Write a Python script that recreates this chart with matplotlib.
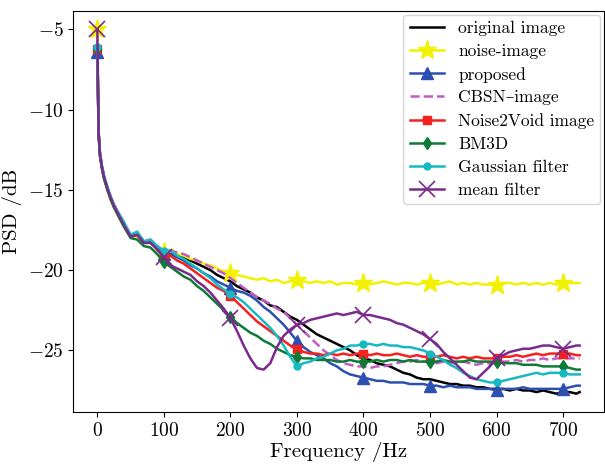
import numpy as np
import matplotlib
matplotlib.use("Agg")
import matplotlib.pyplot as plt

plt.rcParams['font.family'] = ['cmr10', 'DejaVu Serif']
plt.rcParams['mathtext.fontset'] = 'cm'
plt.rcParams['axes.formatter.use_mathtext'] = True

# frequency axis (Hz)
freq = [0, 2, 4, 7, 10, 15, 20, 25, 30, 40, 50, 60, 70, 80, 90] + list(range(100, 730, 10)) + [725]

original = [-6.2, -11.5, -12.8, -13.6, -14.2, -14.9, -15.5, -16.0, -16.4, -17.2, -17.9, -17.8, -18.3, -18.2, -18.6,
            -19.0, -18.9, -19.1, -19.2, -19.4, -19.6, -19.8, -20.0, -20.3, -20.5,
            -20.7, -21.0, -21.2, -21.4, -21.7, -21.9, -22.2, -22.3, -22.6, -22.9,
            -23.1, -23.4, -23.7, -24.0, -24.2, -24.4, -24.6, -24.8, -25.0, -25.3,
            -25.5, -25.6, -25.8, -25.9, -26.0, -26.2, -26.4, -26.5, -26.7, -26.8,
            -26.8, -26.9, -27.0, -27.1, -27.1, -27.2, -27.2, -27.3, -27.3, -27.4,
            -27.4, -27.4, -27.5, -27.4, -27.5, -27.5, -27.6, -27.5, -27.6, -27.7,
            -27.6, -27.6, -27.7, -27.6]

noise = [-5.0, -11.6, -12.9, -13.7, -14.3, -15.0, -15.6, -16.1, -16.5, -17.3, -17.9, -17.9, -18.3, -18.3, -18.6,
         -18.9, -18.8, -19.0, -19.1, -19.3, -19.4, -19.6, -19.7, -19.9, -20.1,
         -20.2, -20.3, -20.4, -20.5, -20.6, -20.5, -20.7, -20.6, -20.8, -20.7,
         -20.6, -20.7, -20.8, -20.7, -20.8, -20.7, -20.9, -20.8, -20.8, -20.9,
         -20.8, -20.9, -20.8, -20.7, -20.8, -20.9, -20.8, -20.8, -20.9, -20.8,
         -20.8, -20.9, -20.8, -20.7, -20.9, -20.8, -20.9, -20.8, -20.9, -20.9,
         -20.9, -20.8, -20.8, -20.9, -20.8, -20.9, -20.8, -20.9, -20.8, -20.9,
         -20.8, -20.8, -20.8, -20.8]

proposed = [-6.4, -11.5, -12.8, -13.6, -14.2, -14.9, -15.5, -16.0, -16.4, -17.2, -17.9, -17.8, -18.3, -18.2, -18.6,
            -19.0, -19.0, -19.2, -19.4, -19.7, -19.9, -20.2, -20.4, -20.7, -20.9,
            -21.1, -21.3, -21.4, -21.6, -21.9, -22.3, -22.6, -23.0, -23.4, -23.9,
            -24.4, -24.8, -25.1, -25.3, -25.5, -25.8, -26.0, -26.3, -26.5, -26.6,
            -26.7, -26.8, -26.9, -26.9, -27.0, -27.0, -27.0, -27.1, -27.1, -27.1,
            -27.2, -27.2, -27.3, -27.2, -27.3, -27.3, -27.3, -27.4, -27.4, -27.4,
            -27.5, -27.4, -27.4, -27.4, -27.3, -27.4, -27.4, -27.4, -27.4, -27.4,
            -27.4, -27.3, -27.2, -27.2]

cbsn = [-6.2, -11.4, -12.7, -13.5, -14.1, -14.8, -15.4, -15.9, -16.3, -17.1, -17.8, -17.7, -18.2, -18.1, -18.5,
        -18.8, -18.8, -18.9, -19.0, -19.2, -19.4, -19.6, -19.8, -20.0, -20.2,
        -20.5, -20.8, -21.1, -21.4, -21.7, -21.9, -22.1, -22.4, -22.6, -23.0,
        -23.4, -23.8, -24.2, -24.6, -25.0, -25.3, -25.6, -25.8, -25.9, -26.0,
        -26.0, -26.1, -26.0, -26.0, -25.9, -25.8, -25.7, -25.7, -25.6, -25.7,
        -25.7, -25.8, -25.7, -25.8, -25.8, -25.7, -25.8, -25.9, -25.8, -25.8,
        -25.8, -25.7, -25.7, -25.6, -25.7, -25.6, -25.6, -25.5, -25.6, -25.5,
        -25.5, -25.5, -25.5, -25.5]

n2v = [-6.2, -11.5, -12.8, -13.6, -14.2, -14.9, -15.5, -16.0, -16.4, -17.2, -17.9, -17.8, -18.3, -18.3, -18.7,
       -19.0, -19.1, -19.4, -19.6, -19.9, -20.2, -20.5, -20.8, -21.1, -21.3,
       -21.6, -22.0, -22.4, -22.8, -23.2, -23.5, -23.8, -24.1, -24.4, -24.7,
       -24.9, -25.1, -25.2, -25.2, -25.3, -25.2, -25.3, -25.2, -25.3, -25.2,
       -25.2, -25.3, -25.2, -25.3, -25.3, -25.2, -25.3, -25.4, -25.3, -25.4,
       -25.4, -25.4, -25.3, -25.4, -25.5, -25.4, -25.5, -25.4, -25.5, -25.5,
       -25.5, -25.4, -25.4, -25.3, -25.4, -25.3, -25.2, -25.3, -25.2, -25.2,
       -25.2, -25.2, -25.3, -25.3]

bm3d = [-6.2, -11.6, -12.9, -13.7, -14.3, -15.0, -15.6, -16.1, -16.5, -17.3, -18.0, -18.1, -18.5, -18.6, -19.0,
        -19.5, -19.8, -20.1, -20.4, -20.6, -21.0, -21.3, -21.7, -22.1, -22.5,
        -22.9, -23.3, -23.6, -23.9, -24.1, -24.4, -24.6, -24.9, -25.1, -25.3,
        -25.4, -25.5, -25.5, -25.6, -25.6, -25.6, -25.7, -25.7, -25.6, -25.7,
        -25.7, -25.7, -25.6, -25.7, -25.6, -25.6, -25.7, -25.6, -25.7, -25.7,
        -25.7, -25.7, -25.6, -25.7, -25.7, -25.7, -25.6, -25.7, -25.7, -25.7,
        -25.7, -25.8, -25.8, -25.8, -25.9, -25.9, -25.9, -26.0, -26.0, -26.0,
        -26.0, -26.1, -26.2, -26.2]

gaussian = [-6.1, -11.4, -12.7, -13.5, -14.1, -14.8, -15.4, -15.9, -16.3, -17.0, -17.8, -17.6, -18.2, -18.1, -18.5,
            -18.8, -18.8, -19.1, -19.3, -19.6, -19.9, -20.2, -20.5, -20.9, -21.2,
            -21.5, -21.7, -22.0, -22.4, -22.8, -23.2, -23.6, -24.1, -24.7, -25.4,
            -26.0, -25.8, -25.7, -25.5, -25.4, -25.2, -25.0, -24.9, -24.7, -24.7,
            -24.6, -24.6, -24.7, -24.6, -24.7, -24.7, -24.8, -24.8, -24.9, -25.0,
            -25.2, -25.4, -25.6, -25.9, -26.1, -26.4, -26.6, -26.8, -26.9, -27.0,
            -27.0, -26.9, -26.8, -26.7, -26.6, -26.5, -26.4, -26.5, -26.4, -26.4,
            -26.4, -26.5, -26.5, -26.5]

mean_f = [-5.0, -11.5, -12.8, -13.6, -14.2, -14.9, -15.5, -16.0, -16.4, -17.2, -17.9, -17.8, -18.3, -18.3, -18.7,
          -19.2, -19.7, -19.9, -20.1, -20.3, -20.7, -21.0, -21.4, -21.9, -22.4,
          -23.0, -23.8, -24.7, -25.5, -26.1, -26.2, -25.8, -24.8, -24.1, -23.7,
          -23.4, -23.3, -23.1, -23.0, -22.9, -22.8, -22.7, -22.8, -22.7, -22.6,
          -22.8, -22.8, -22.9, -23.0, -23.1, -23.3, -23.4, -23.6, -23.8, -24.0,
          -24.3, -24.6, -25.1, -25.5, -25.9, -26.3, -26.7, -26.8, -26.4, -26.0,
          -25.5, -25.3, -25.1, -25.0, -24.9, -24.9, -24.8, -24.7, -24.7, -24.8,
          -24.9, -24.8, -24.7, -24.7]

labels = ['original image', 'noise-image', 'proposed', 'CBSN\u2013image',
          'Noise2Void image', 'BM3D', 'Gaussian filter', 'mean filter']

# markers every 100 Hz
mark_idx = [i for i, f in enumerate(freq) if f % 100 == 0]

fig = plt.figure(figsize=(6.05, 4.67), dpi=100)
ax = fig.add_axes([0.121, 0.118, 0.877, 0.858])

lw = 1.8
ax.plot(freq, original, color='black', lw=lw, label=labels[0])
ax.plot(freq, noise, color='#f2f200', lw=lw, marker='*', ms=14, markevery=mark_idx, label=labels[1])
ax.plot(freq, proposed, color='#2c4fb0', lw=lw, marker='^', ms=9, markevery=mark_idx, label=labels[2])
ax.plot(freq, cbsn, color='#c25cc2', lw=lw, ls='--', label=labels[3])
ax.plot(freq, n2v, color='#f52020', lw=lw, marker='s', ms=6, markevery=mark_idx, label=labels[4])
ax.plot(freq, bm3d, color='#0f7a35', lw=lw, marker='d', ms=6, markevery=mark_idx, label=labels[5])
ax.plot(freq, gaussian, color='#16b9c2', lw=lw, marker='o', ms=5, markevery=mark_idx, label=labels[6])
ax.plot(freq, mean_f, color='#7a2a8c', lw=lw, marker='x', ms=12, mew=1.2, markevery=mark_idx, label=labels[7])

ax.set_xticks([0, 100, 200, 300, 400, 500, 600, 700])
ax.set_yticks([-5, -10, -15, -20, -25])
ax.tick_params(labelsize=14)
ax.set_xlabel('Frequency /Hz', fontsize=15, labelpad=2)
ax.set_ylabel('PSD /dB', fontsize=15, labelpad=4)

ax.legend(loc='upper right', fontsize=12.5, labelspacing=0.44, handlelength=2.0,
          borderpad=0.35, borderaxespad=0.2)

fig.savefig('out.png', dpi=100)
